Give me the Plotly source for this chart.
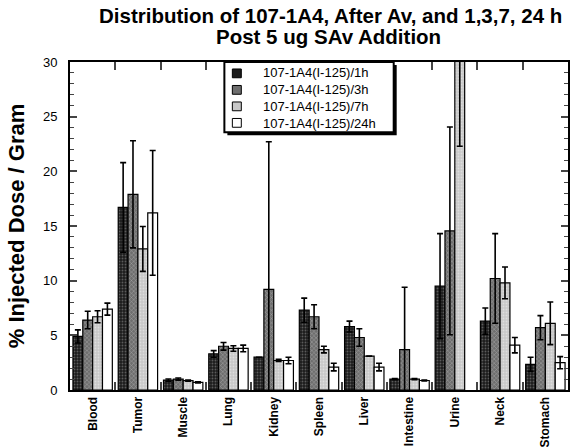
import plotly.graph_objects as go

organs = ["Blood", "Tumor", "Muscle", "Lung", "Kidney", "Spleen", "Liver",
          "Intestine", "Urine", "Neck", "Stomach"]
series_names = ["107-1A4(I-125)/1h", "107-1A4(I-125)/3h",
                "107-1A4(I-125)/7h", "107-1A4(I-125)/24h"]

v_1h = [4.9, 16.7, 0.9, 3.3, 3.0, 7.3, 5.8, 1.0, 9.5, 6.3, 2.35]
e_1h = [0.6, 4.1, 0.1, 0.3, 0.0, 1.1, 0.5, 0.05, 4.8, 1.2, 0.65]
v_3h = [6.4, 17.9, 1.0, 4.0, 9.2, 6.7, 4.8, 3.7, 14.55, 10.2, 5.7]
e_3h = [0.8, 4.9, 0.1, 0.35, 13.5, 1.1, 0.8, 5.7, 9.5, 4.1, 1.1]
v_7h = [6.7, 12.9, 0.85, 3.8, 2.7, 3.7, 3.1, 1.0, 38.0, 9.8, 6.1]
e_7h = [0.55, 2.05, 0.05, 0.25, 0.1, 0.3, 0.0, 0.05, 15.7, 1.45, 1.95]
v_24h = [7.4, 16.2, 0.7, 3.8, 2.7, 2.1, 2.1, 0.87, None, 4.1, 2.5]
e_24h = [0.55, 5.7, 0.05, 0.3, 0.3, 0.35, 0.35, 0.05, None, 0.7, 0.55]

values = [v_1h, v_3h, v_7h, v_24h]
errors = [e_1h, e_3h, e_7h, e_24h]
bg_colors = ["#1c1c1c", "#6e6e6e", "#c8c8c8", "#ffffff"]
fg_colors = ["#9a9a9a", "#dcdcdc", "#f4f4f4", "#ffffff"]
shapes_pat = [".", "x", ".", ""]

W, H = 570, 447
L, R, T, B = 70, 0, 62, 49

fig = go.Figure()
for name, v, e, bg, fg, sh in zip(series_names, values, errors, bg_colors, fg_colors, shapes_pat):
    fig.add_trace(go.Bar(
        name=name, x=organs, y=v, showlegend=False,
        marker=dict(color=bg, line=dict(color="black", width=1.2),
                    pattern=dict(shape=sh, fgcolor=fg, bgcolor=bg, size=3, solidity=0.3)),
        error_y=dict(type="data", array=e, visible=True, color="black",
                     thickness=1.6, width=3),
    ))

pw = W - L - R
ph = H - T - B
def px_x(x):
    return (x - L) / pw
def px_y(y):
    return (H - B - y) / ph

# legend box with drop shadow
fig.add_shape(type="rect", xref="paper", yref="paper",
              x0=px_x(228), x1=px_x(398), y0=px_y(137), y1=px_y(65),
              fillcolor="black", line=dict(width=0), layer="above")
fig.add_shape(type="rect", xref="paper", yref="paper",
              x0=px_x(225), x1=px_x(395), y0=px_y(134), y1=px_y(62),
              fillcolor="white", line=dict(color="black", width=2), layer="above")
leg_font = 13
line_h = leg_font * 1.3
leg_center = 99
rows_y = [leg_center + (i - 1.5) * line_h for i in range(4)]
for bg, ry in zip(bg_colors, rows_y):
    fig.add_shape(type="rect", xref="paper", yref="paper",
                  x0=px_x(233), x1=px_x(242), y0=px_y(ry + 4.5), y1=px_y(ry - 4.5),
                  fillcolor=bg, line=dict(color="black", width=1), layer="above")
fig.add_annotation(text="<br>".join(series_names), xref="paper", yref="paper",
                   x=px_x(262), y=px_y(leg_center), xanchor="left", yanchor="middle",
                   align="left", showarrow=False, font=dict(size=leg_font))

fig.add_annotation(text="Distribution of 107-1A4, After Av, and 1,3,7, 24 h",
                   xref="paper", yref="paper", x=px_x(332), y=px_y(14),
                   xanchor="center", yanchor="middle", showarrow=False,
                   font=dict(size=20.5, weight="bold"))
fig.add_annotation(text="Post 5 ug SAv Addition",
                   xref="paper", yref="paper", x=px_x(330), y=px_y(36),
                   xanchor="center", yanchor="middle", showarrow=False,
                   font=dict(size=20.5, weight="bold"))

fig.update_layout(
    width=W, height=H,
    margin=dict(l=L, r=R, t=T, b=B, pad=0),
    paper_bgcolor="white", plot_bgcolor="white",
    barmode="group", bargap=0.13, bargroupgap=0.0,
    font=dict(family="Liberation Sans, Arial, sans-serif", color="black"),
    showlegend=False,
)
fig.update_yaxes(range=[0, 30], dtick=5, ticks="inside", ticklen=7, tickwidth=1.5,
                 showline=True, linecolor="black", linewidth=2, mirror="ticks",
                 showgrid=False, zeroline=False,
                 minor=dict(ticks="inside", dtick=1, ticklen=4, tickwidth=1),
                 tickfont=dict(size=13), ticklabelstandoff=8,
                 title=dict(text="% Injected Dose / Gram", standoff=12,
                            font=dict(size=22, weight="bold")))
fig.update_xaxes(ticks="inside", tickson="boundaries", ticklen=8, tickwidth=1.5,
                 showline=True, linecolor="black", linewidth=2, mirror="ticks",
                 showgrid=False, tickangle=-90,
                 tickfont=dict(size=12, weight="bold"))

fig.write_html("out.html")
